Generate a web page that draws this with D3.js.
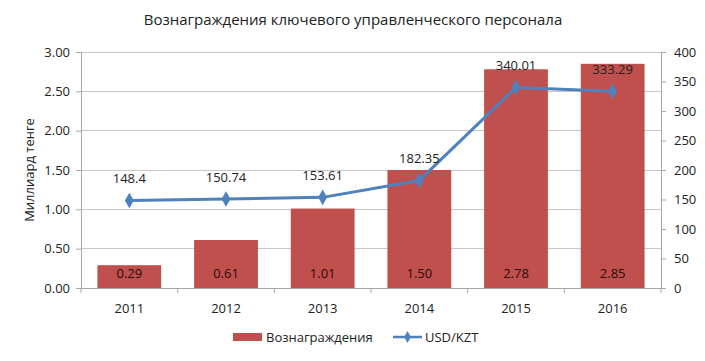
<!DOCTYPE html>
<html><head><meta charset="utf-8">
<script src="https://cdn.jsdelivr.net/npm/d3@7/dist/d3.min.js"></script>
<style>body{margin:0;background:#fff;} text{font-family:"Open Sans","Noto Sans",sans-serif;}</style>
</head><body><svg id="c" width="705" height="361"></svg>
<script>
const years = ["2011","2012","2013","2014","2015","2016"];
const rewards = [0.29, 0.61, 1.01, 1.50, 2.78, 2.85];
const usdKzt = [148.4, 150.74, 153.61, 182.35, 340.01, 333.29];
const leftTicks = [0, 0.5, 1, 1.5, 2, 2.5, 3];
const rightTicks = [0, 50, 100, 150, 200, 250, 300, 350, 400];
const title = "Вознаграждения ключевого управленческого персонала";
const yTitle = "Миллиард тенге";
const seriesNames = ["Вознаграждения", "USD/KZT"];

const svg = d3.select("#c");
const L = 81, R = 661, T = 52, B = 288;
const barColor = "#c0504d", lineColor = "#4f81bd", gridColor = "#c8c8c8", txt = "#222";

const x = d3.scaleBand().domain(years).range([L, R]).paddingInner(0.34).paddingOuter(0.17);
const y = d3.scaleLinear().domain([0, 3]).range([B, T]);
const y2 = d3.scaleLinear().domain([0, 400]).range([B, T]);

// grid
svg.append("g").selectAll("line").data(leftTicks.slice(1)).join("line")
  .attr("x1", L).attr("x2", R).attr("y1", d => y(d)).attr("y2", d => y(d))
  .attr("stroke", gridColor).attr("stroke-width", 1).attr("shape-rendering", "crispEdges");

// bars
svg.append("g").selectAll("rect").data(rewards).join("rect")
  .attr("x", (d, i) => x(years[i])).attr("width", x.bandwidth())
  .attr("y", d => y(d)).attr("height", d => B - y(d)).attr("fill", barColor);

svg.append("g").selectAll("text").data(rewards).join("text")
  .attr("x", (d, i) => x(years[i]) + x.bandwidth() / 2).attr("y", B - 10)
  .attr("text-anchor", "middle").attr("font-size", 13).attr("fill", "#2a0a0a")
  .text(d => d.toFixed(2));

// left axis
const ax = svg.append("g").attr("transform", `translate(${L},0)`)
  .call(d3.axisLeft(y).tickValues(leftTicks).tickFormat(d3.format(".2f")).tickSize(5).tickPadding(6));
ax.select(".domain").attr("stroke", "#a6a6a6");
ax.selectAll(".tick line").attr("stroke", "#a6a6a6");
ax.selectAll("text").attr("font-size", 13).attr("fill", txt).style("font-family", '"Open Sans",sans-serif');

// right axis
const ar = svg.append("g").attr("transform", `translate(${R},0)`)
  .call(d3.axisRight(y2).tickValues(rightTicks).tickSize(5).tickPadding(8));
ar.select(".domain").attr("stroke", "#a6a6a6");
ar.selectAll(".tick line").attr("stroke", "#a6a6a6");
ar.selectAll("text").attr("font-size", 13).attr("fill", txt).style("font-family", '"Open Sans",sans-serif');

// bottom axis
const xb = svg.append("g").attr("transform", `translate(0,${B})`);
xb.append("line").attr("x1", L).attr("x2", R).attr("stroke", "#a6a6a6").attr("shape-rendering", "crispEdges");
const step = x.step();
const bounds = d3.range(years.length + 1).map(i => L + i * (R - L) / years.length);
xb.selectAll(".tk").data(bounds).join("line").attr("class", "tk")
  .attr("x1", d => d).attr("x2", d => d).attr("y1", 0).attr("y2", 5).attr("stroke", "#a6a6a6");
xb.selectAll(".lb").data(years).join("text").attr("class", "lb")
  .attr("x", d => x(d) + x.bandwidth() / 2).attr("y", 25).attr("text-anchor", "middle")
  .attr("font-size", 13).attr("fill", txt).text(d => d);

// line
const line = d3.line().x((d, i) => x(years[i]) + x.bandwidth() / 2).y(d => y2(d));
svg.append("path").datum(usdKzt).attr("d", line).attr("fill", "none")
  .attr("stroke", lineColor).attr("stroke-width", 3).attr("stroke-linejoin", "round");
const diamond = d3.symbol().type(d3.symbolDiamond).size(70);
svg.append("g").selectAll("path").data(usdKzt).join("path")
  .attr("transform", (d, i) => `translate(${x(years[i]) + x.bandwidth() / 2},${y2(d)})`)
  .attr("d", diamond).attr("fill", lineColor);
svg.append("g").selectAll("text").data(usdKzt).join("text")
  .attr("x", (d, i) => x(years[i]) + x.bandwidth() / 2).attr("y", d => y2(d) - 17)
  .attr("text-anchor", "middle").attr("font-size", 13).attr("fill", txt)
  .text(d => String(d));

// titles
svg.append("text").attr("x", 353).attr("y", 25).attr("text-anchor", "middle")
  .attr("font-size", 15).attr("fill", txt).text(title);
svg.append("text").attr("transform", `translate(34,${(T + B) / 2}) rotate(-90)`)
  .attr("text-anchor", "middle").attr("font-size", 13).attr("fill", txt).text(yTitle);

// legend
const lg = svg.append("g").attr("transform", "translate(0,337)");
lg.append("rect").attr("x", 233).attr("y", -4).attr("width", 29).attr("height", 8).attr("fill", barColor);
lg.append("text").attr("x", 266).attr("y", 5).attr("font-size", 13).attr("fill", txt).text(seriesNames[0]);
lg.append("line").attr("x1", 393).attr("x2", 422).attr("stroke", lineColor).attr("stroke-width", 2.5);
lg.append("path").attr("transform", "translate(407.5,0)").attr("d", d3.symbol().type(d3.symbolDiamond).size(40)).attr("fill", lineColor);
lg.append("text").attr("x", 425).attr("y", 5).attr("font-size", 13).attr("fill", txt).text(seriesNames[1]);
</script></body></html>
